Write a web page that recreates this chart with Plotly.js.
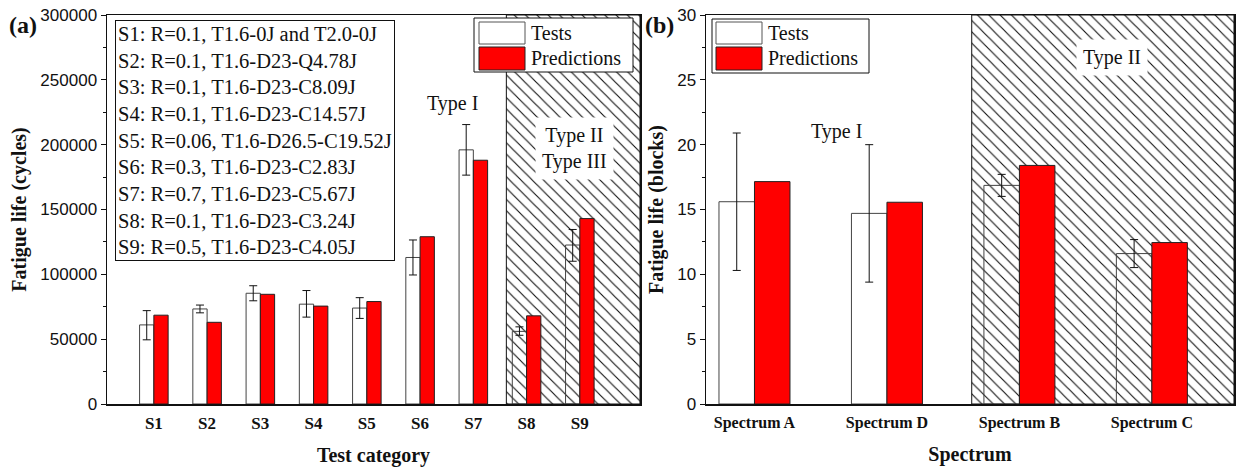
<!DOCTYPE html>
<html><head><meta charset="utf-8">
<script src="https://cdn.plot.ly/plotly-3.0.1.min.js"></script>
<style>html,body{margin:0;padding:0;background:#fff;} #chart{width:1237px;height:470px;}</style>
</head><body><div id="chart"></div>
<script>
// ---------- data ----------
const categoriesA = ['S1', 'S2', 'S3', 'S4', 'S5', 'S6', 'S7', 'S8', 'S9'];
const testsA = [61000, 73300, 85400, 77000, 74000, 113000, 196000, 56000, 122600];
const testsErrPlusA = [11000, 3000, 5800, 10500, 8000, 13500, 19500, 3500, 12000];
const testsErrMinusA = [11500, 3000, 5800, 10000, 8000, 13500, 19500, 3000, 12500];
const predictionsA = [68500, 63000, 84600, 75500, 79000, 129000, 188000, 68000, 143000];

const categoriesB = ['Spectrum A', 'Spectrum D', 'Spectrum B', 'Spectrum C'];
const testsB = [15.6, 14.7, 16.86, 11.6];
const testsErrB = [5.3, 5.3, 0.85, 1.08];
const predictionsB = [17.15, 15.56, 18.4, 12.45];

const legendNames = ['Tests', 'Predictions'];
const conditionLines = [
  'S1: R=0.1, T1.6-0J and T2.0-0J',
  'S2: R=0.1, T1.6-D23-Q4.78J',
  'S3: R=0.1, T1.6-D23-C8.09J',
  'S4: R=0.1, T1.6-D23-C14.57J',
  'S5: R=0.06, T1.6-D26.5-C19.52J',
  'S6: R=0.3, T1.6-D23-C2.83J',
  'S7: R=0.7, T1.6-D23-C5.67J',
  'S8: R=0.1, T1.6-D23-C3.24J',
  'S9: R=0.5, T1.6-D23-C4.05J'
];
// hatched (Type II / III) regions, in axis units
const hatchA = [7.62, 10.13];
const hatchB = [2.64, 4.62];
const yMaxA = 300000, yMaxB = 30;

// ---------- drawing ----------
const W = 1237, H = 470;
const px = x => x / W, py = y => 1 - y / H;
const pos = arr => arr.map((_, i) => i + 1);
const SERIF = 'Liberation Serif', SANS = 'Liberation Sans';
const BW = 0.268;

function hatchTrace(range, ymax, xa, ya) {
  return {
    type: 'bar', x: [range[0]], y: [ymax], width: [range[1] - range[0]], offset: 0,
    xaxis: xa, yaxis: ya, hoverinfo: 'skip', showlegend: false,
    marker: {color: 'white', line: {color: '#111', width: 1},
      pattern: {shape: '\\', fgcolor: '#111', bgcolor: 'white', size: 8, solidity: 0.14, fillmode: 'replace'}}
  };
}
function testsTrace(cats, vals, ep, em, xa, ya) {
  return {
    type: 'bar', name: legendNames[0], x: pos(cats), y: vals, width: BW, offset: -BW,
    xaxis: xa, yaxis: ya, showlegend: false,
    marker: {color: 'rgba(0,0,0,0)', line: {color: '#444', width: 1}},
    error_y: {type: 'data', symmetric: false, array: ep, arrayminus: em, color: '#111', thickness: 1, width: 4}
  };
}
function predTrace(cats, vals, xa, ya) {
  return {
    type: 'bar', name: legendNames[1], x: pos(cats), y: vals, width: BW, offset: 0,
    xaxis: xa, yaxis: ya, showlegend: false,
    marker: {color: '#ff0000', line: {color: '#222', width: 1}}
  };
}

const data = [
  hatchTrace(hatchA, yMaxA, 'x', 'y'),
  testsTrace(categoriesA, testsA, testsErrPlusA, testsErrMinusA, 'x', 'y'),
  predTrace(categoriesA, predictionsA, 'x', 'y'),
  hatchTrace(hatchB, yMaxB, 'x2', 'y2'),
  testsTrace(categoriesB, testsB, testsErrB, testsErrB, 'x2', 'y2'),
  predTrace(categoriesB, predictionsB, 'x2', 'y2')
];

function xAxis(dom, range, cats, title, anchor, tsize) {
  return {
    domain: dom, range: range, anchor: anchor, tickmode: 'array', tickvals: pos(cats), ticktext: cats,
    ticks: '', showline: true, linecolor: '#111', linewidth: 1.5, mirror: true,
    showgrid: false, zeroline: false, automargin: false, ticklabelstandoff: 3,
    tickfont: {family: SERIF, size: tsize, color: '#111', weight: 'bold'},
    title: {text: title, font: {family: SERIF, size: 20, color: '#111', weight: 'bold'}, standoff: 16}
  };
}
function yAxis(dom, range, dt, mdt, title, anchor, fmt) {
  return {
    domain: dom, range: range, anchor: anchor, dtick: dt, tick0: 0, tickformat: fmt,
    ticks: 'outside', ticklen: 5, tickwidth: 1, tickcolor: '#111',
    minor: {dtick: mdt, ticks: 'outside', ticklen: 3, tickcolor: '#111', showgrid: false},
    showline: true, linecolor: '#111', linewidth: 1.5, mirror: true,
    showgrid: false, zeroline: false, automargin: false,
    tickfont: {family: SANS, size: 17, color: '#111'},
    title: {text: title, font: {family: SERIF, size: 20, color: '#111', weight: 'bold'}, standoff: 8}
  };
}

const yDom = [py(404), py(15)];
const layout = {
  width: W, height: H, margin: {l: 0, r: 0, t: 0, b: 0},
  paper_bgcolor: 'white', plot_bgcolor: 'white', barmode: 'overlay', showlegend: false,
  xaxis: xAxis([px(107), px(640)], [0.12, 10.13], categoriesA, 'Test category', 'y', 17),
  yaxis: yAxis(yDom, [0, yMaxA], 50000, 25000, 'Fatigue life (cycles)', 'x', 'd'),
  xaxis2: xAxis([px(706), px(1234)], [0.634, 4.62], categoriesB, 'Spectrum', 'y2', 16),
  yaxis2: yAxis(yDom, [0, yMaxB], 5, 2.5, 'Fatigue life (blocks)', 'x2', ''),
  shapes: [], annotations: []
};

function legendBox(x0, x1, y0, y1, swx0, swx1, rows, textX) {
  layout.shapes.push({type: 'rect', xref: 'paper', yref: 'paper', x0: px(x0), x1: px(x1), y0: py(y1), y1: py(y0),
    line: {color: '#111', width: 1}, fillcolor: 'white', layer: 'above'});
  rows.forEach((r, i) => {
    layout.shapes.push({type: 'rect', xref: 'paper', yref: 'paper', x0: px(swx0), x1: px(swx1), y0: py(r[1]), y1: py(r[0]),
      line: {color: i === 0 ? '#555' : '#222', width: 1}, fillcolor: i === 0 ? 'white' : '#ff0000', layer: 'above'});
    layout.annotations.push({xref: 'paper', yref: 'paper', x: px(textX), y: py((r[0] + r[1]) / 2),
      xanchor: 'left', yanchor: 'middle', showarrow: false, text: legendNames[i],
      font: {family: SERIF, size: 20, color: '#111'}});
  });
}
legendBox(474, 633, 18, 72, 479, 525, [[22, 44], [47, 70]], 529);
legendBox(712, 869, 19, 73, 716, 762, [[22, 44], [47, 70]], 766);

function note(x, y, text, size, opts) {
  layout.annotations.push(Object.assign({xref: 'paper', yref: 'paper', x: px(x), y: py(y),
    xanchor: 'center', yanchor: 'middle', showarrow: false, text: text,
    font: {family: SERIF, size: size, color: '#111'}}, opts || {}));
}
note(115, 20, conditionLines.join('<br>'), 20.5, {xanchor: 'left', yanchor: 'top', align: 'left',
  bgcolor: 'white', bordercolor: '#111', borderwidth: 1, borderpad: 2});
note(452, 103, 'Type I', 20);
note(574, 148, 'Type II<br>Type III', 20, {bgcolor: 'white', borderpad: 6});
note(837, 132, 'Type I', 20);
note(1112, 57, 'Type II', 20, {bgcolor: 'white', borderpad: 6});
note(23, 25, '(a)', 24, {font: {family: SERIF, size: 24, color: '#111', weight: 'bold'}});
note(659, 25, '(b)', 24, {font: {family: SERIF, size: 24, color: '#111', weight: 'bold'}});

Plotly.newPlot('chart', data, layout, {staticPlot: true});
</script>
</body></html>
